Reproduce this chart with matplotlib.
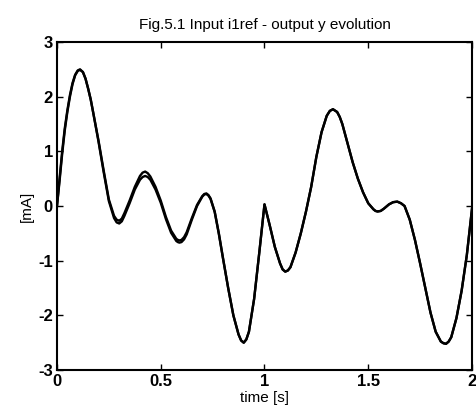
import matplotlib
matplotlib.use('Agg')
import matplotlib.pyplot as plt

# values
t = [0.000, 0.0125, 0.025, 0.0375, 0.050, 0.0625, 0.075, 0.0875, 0.100, 0.111,
     0.125, 0.1375, 0.150, 0.1625, 0.175, 0.200, 0.225, 0.250, 0.275, 0.2875,
     0.300, 0.3125, 0.325, 0.350, 0.375, 0.400, 0.4125, 0.425, 0.4375, 0.450,
     0.475, 0.500, 0.525, 0.550, 0.575, 0.5825, 0.590, 0.600, 0.6125, 0.625,
     0.650, 0.675, 0.700, 0.710, 0.720, 0.730, 0.740, 0.760, 0.780, 0.800,
     0.825, 0.850, 0.875, 0.8875, 0.900, 0.9125, 0.925, 0.950, 0.975, 1.000,
     1.025, 1.050, 1.075, 1.0875, 1.100, 1.1125, 1.125, 1.150, 1.175, 1.200,
     1.225, 1.250, 1.275, 1.300, 1.315, 1.330, 1.350, 1.3625, 1.375, 1.400,
     1.425, 1.450, 1.475, 1.500, 1.525, 1.535, 1.545, 1.560, 1.575, 1.600,
     1.620, 1.640, 1.658, 1.675, 1.700, 1.725, 1.750, 1.775, 1.800, 1.825,
     1.850, 1.8625, 1.875, 1.8875, 1.900, 1.925, 1.950, 1.975, 2.000]

i1ref = [0.00, 0.50, 1.00, 1.42, 1.75, 2.03, 2.25, 2.40, 2.48, 2.50,
         2.45, 2.33, 2.15, 1.95, 1.70, 1.20, 0.65, 0.12, -0.18, -0.25,
         -0.27, -0.23, -0.13, 0.10, 0.35, 0.55, 0.61, 0.63, 0.60, 0.54,
         0.35, 0.10, -0.20, -0.45, -0.60, -0.62, -0.63, -0.62, -0.57, -0.48,
         -0.22, 0.02, 0.18, 0.22, 0.23, 0.20, 0.14, -0.10, -0.50, -0.95,
         -1.50, -2.00, -2.35, -2.46, -2.50, -2.44, -2.30, -1.70, -0.85, 0.03,
         -0.35, -0.75, -1.05, -1.16, -1.20, -1.18, -1.12, -0.85, -0.50, -0.10,
         0.35, 0.90, 1.35, 1.65, 1.74, 1.77, 1.72, 1.63, 1.50, 1.15,
         0.80, 0.50, 0.25, 0.05, -0.06, -0.09, -0.10, -0.09, -0.05, 0.03,
         0.07, 0.08, 0.05, 0.00, -0.25, -0.62, -1.05, -1.50, -1.95, -2.30,
         -2.48, -2.51, -2.52, -2.48, -2.40, -2.05, -1.55, -0.90, -0.05]

y_out = [0.00, 0.46, 0.95, 1.38, 1.72, 2.00, 2.23, 2.39, 2.47, 2.49,
         2.45, 2.33, 2.15, 1.95, 1.70, 1.18, 0.62, 0.09, -0.22, -0.30,
         -0.32, -0.28, -0.18, 0.05, 0.30, 0.48, 0.53, 0.55, 0.53, 0.48,
         0.30, 0.06, -0.24, -0.49, -0.64, -0.66, -0.67, -0.66, -0.61, -0.52,
         -0.25, 0.00, 0.17, 0.21, 0.22, 0.19, 0.13, -0.11, -0.51, -0.96,
         -1.50, -2.00, -2.35, -2.46, -2.50, -2.44, -2.30, -1.70, -0.85, 0.03,
         -0.35, -0.75, -1.05, -1.16, -1.20, -1.18, -1.12, -0.85, -0.50, -0.10,
         0.35, 0.90, 1.35, 1.65, 1.74, 1.77, 1.72, 1.63, 1.50, 1.15,
         0.80, 0.50, 0.25, 0.05, -0.06, -0.09, -0.10, -0.09, -0.05, 0.03,
         0.07, 0.08, 0.05, 0.00, -0.25, -0.62, -1.05, -1.50, -1.95, -2.30,
         -2.48, -2.51, -2.52, -2.48, -2.40, -2.05, -1.55, -0.90, -0.05]

xticks = [0, 0.5, 1, 1.5, 2]
xticklabels = ['0', '0.5', '1', '1.5', '2']
yticks = [-3, -2, -1, 0, 1, 2, 3]

plt.rcParams['font.family'] = ['Liberation Sans', 'DejaVu Sans']
plt.rcParams['axes.unicode_minus'] = False

fig = plt.figure(figsize=(4.76, 4.15), dpi=100)
ax = fig.add_axes([0.1197, 0.1084, 0.8719, 0.7904])

ax.plot(t, i1ref, color='black', linewidth=1.7, solid_joinstyle='round')
ax.plot(t, y_out, color='black', linewidth=1.7, solid_joinstyle='round')

ax.set_xlim(0, 2)
ax.set_ylim(-3, 3)
ax.set_xticks(xticks)
ax.set_xticklabels(xticklabels)
ax.set_yticks(yticks)
ax.tick_params(direction='in', top=True, right=True, length=4, width=1,
               labelsize=12, pad=3)
for lab in ax.get_xticklabels() + ax.get_yticklabels():
    lab.set_fontweight('bold')
for s in ax.spines.values():
    s.set_linewidth(1.5)

ax.set_title('Fig.5.1 Input i1ref - output y evolution', fontsize=11, pad=9)
ax.set_xlabel('time [s]', fontsize=11, labelpad=1)
ax.set_ylabel('[mA]', fontsize=11, labelpad=3)

fig.savefig('out.png', dpi=100)
